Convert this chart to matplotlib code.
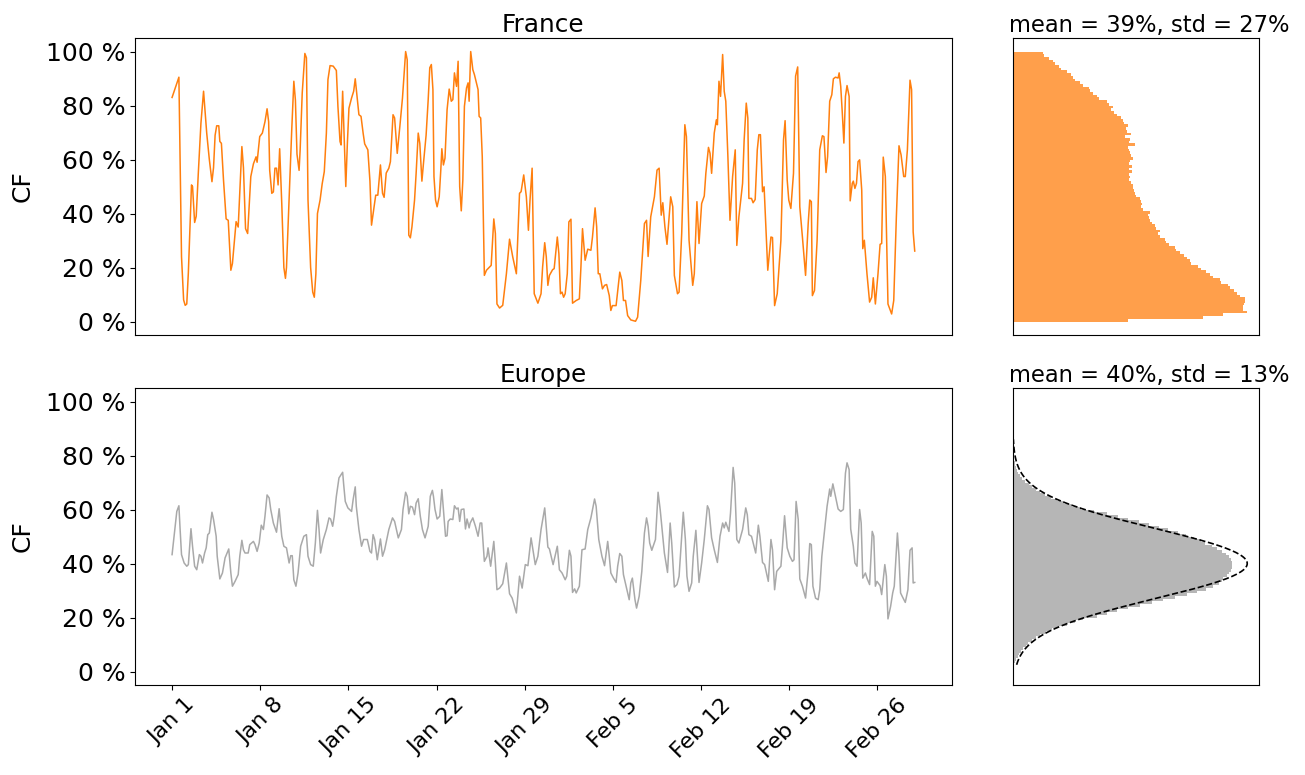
import numpy as np
import pandas as pd
import matplotlib
matplotlib.use("Agg")
import matplotlib.pyplot as plt
import matplotlib.ticker as mticker

# hourly capacity factor, Jan 1 - Feb 28 (hours since Jan 1 00:00, value in %)
france_hours = [
    0, 13, 18, 22, 25, 28, 31, 37, 39, 43, 46, 50, 55, 60, 66, 71, 76, 79, 82, 85,
    89, 91, 94, 98, 103, 107, 112, 115, 122, 126, 133, 136, 140, 144, 150, 155, 160, 162, 167, 172,
    177, 181, 184, 186, 190, 193, 196, 199, 202, 205, 209, 213, 216, 218, 223, 228, 232, 235, 238, 242,
    244, 248, 253, 256, 259, 264, 268, 271, 274, 277, 282, 286, 290, 294, 297, 301, 307, 313, 316, 320,
    322, 325, 328, 331, 334, 337, 342, 346, 349, 356, 360, 364, 367, 373, 377, 380, 384, 388, 392, 397,
    401, 404, 408, 413, 416, 421, 424, 429, 434, 439, 445, 448, 451, 454, 457, 462, 465, 469, 472, 476,
    479, 484, 488, 491, 494, 497, 499, 502, 505, 509, 512, 514, 517, 520, 524, 528, 532, 535, 538, 542,
    545, 548, 551, 554, 557, 561, 564, 566, 569, 573, 576, 583, 585, 588, 591, 595, 599, 605, 608, 613,
    616, 619, 624, 630, 637, 643, 649, 656, 662, 665, 670, 675, 679, 682, 686, 690, 697, 703, 706, 710,
    713, 716, 719, 725, 728, 734, 737, 740, 743, 746, 749, 753, 756, 760, 763, 770, 776, 779, 782, 787,
    792, 798, 801, 806, 809, 812, 815, 820, 824, 828, 833, 836, 839, 846, 853, 857, 860, 864, 868, 874,
    883, 887, 893, 900, 904, 907, 912, 919, 924, 928, 932, 935, 939, 943, 950, 954, 957, 963, 966, 971,
    977, 980, 985, 992, 995, 1000, 1004, 1009, 1014, 1017, 1022, 1025, 1028, 1033, 1037, 1039, 1042, 1045, 1049, 1052,
    1055, 1059, 1063, 1068, 1073, 1076, 1080, 1087, 1090, 1094, 1097, 1099, 1104, 1107, 1111, 1115, 1118, 1121, 1125, 1128,
    1131, 1135, 1141, 1144, 1148, 1153, 1160, 1165, 1168, 1172, 1175, 1179, 1184, 1188, 1192, 1196, 1201, 1207, 1212, 1215,
    1218, 1220, 1224, 1229, 1234, 1239, 1242, 1246, 1249, 1253, 1257, 1260, 1264, 1269, 1271, 1274, 1277, 1280, 1283, 1286,
    1290, 1292, 1296, 1298, 1301, 1304, 1307, 1310, 1314, 1316, 1319, 1324, 1329, 1333, 1336, 1340, 1345, 1349, 1352, 1355,
    1359, 1364, 1371, 1375, 1380, 1385, 1389, 1394, 1397, 1401, 1406, 1409, 1412, 1415,
]
france_cf = [
    83, 90.5, 24, 8, 6, 6.5, 18, 50.6, 50, 36.7, 39, 55, 73.5, 85.3, 69.8, 60, 51.8, 57, 69, 72.5,
    72.5, 66.7, 66, 52.4, 38, 37.5, 19, 21.5, 37, 35, 64.8, 57, 34.4, 32.6, 53.7, 58.4, 61, 59, 68.5, 69.8,
    74, 78.8, 74, 56, 47.5, 48, 56.8, 56.8, 50.6, 64, 43.7, 20, 16, 20, 46, 71, 89, 82, 62, 56,
    63.5, 84.7, 99.3, 97.7, 45, 20, 10.9, 9, 17.7, 40, 45, 51, 55.5, 69.8, 89.6, 94.8, 94.6, 93, 79.7, 66.7,
    65.4, 85.3, 67.3, 50, 66, 79, 82.8, 85.3, 89.9, 76.6, 76, 69.8, 65.8, 63.6, 52, 35.7, 41.3, 46.8, 46.8, 58,
    47.5, 46, 55, 56.8, 59.2, 76.6, 75.4, 62.3, 72.3, 82.8, 100, 97, 32, 31, 35, 45, 54.9, 69.8, 66, 52,
    58.6, 69, 82.2, 94, 95.2, 85.9, 53.7, 45, 42.5, 46.2, 56.1, 64, 58, 60.5, 78.5, 86.1, 81.6, 82.2, 92.1, 87.1,
    96.4, 50, 41, 52.4, 79.7, 86.5, 88.4, 81.6, 100, 93.3, 91.5, 85.9, 76, 75.4, 61.1, 17.1, 19, 20.2, 20.8, 38,
    32.6, 6.5, 5, 6, 17.7, 30.5, 24, 17.7, 47.5, 48.1, 54.3, 46.2, 33.8, 45, 56.8, 10.3, 6.8, 10.3, 20.2, 29.2,
    24, 13.4, 17.1, 19.2, 19.6, 31.3, 25.1, 10.3, 10.9, 9, 10.3, 17.7, 36.9, 37.9, 6.8, 7.8, 8.4, 20.2, 34.4, 22.7,
    26.8, 26.4, 31.3, 42.1, 35.1, 17.7, 17.7, 12.1, 13.4, 13.7, 9.6, 4.1, 5.9, 5.9, 18.3, 15.2, 7.8, 7.8, 2.2, 0.6,
    0.1, 1.6, 15.2, 36.3, 37.5, 24.1, 38.8, 46.2, 56.1, 56.8, 39.4, 44, 35.1, 28.6, 46.2, 42.5, 17.1, 10.3, 10.9, 32.6,
    72.9, 68.5, 30.1, 13.4, 17.7, 44.4, 28.9, 43.7, 46.5, 54.9, 64.5, 62.3, 54.9, 69.8, 74.7, 72.9, 89, 83.4, 98.9, 85.3,
    81.6, 61.1, 37.5, 53.7, 63.6, 28.2, 38.8, 51.2, 67.3, 80.9, 75.4, 45.6, 45.6, 44, 45.2, 63.6, 69.2, 69.2, 48.1, 49.9,
    36.9, 19, 31.3, 31.1, 5.9, 10.3, 30.1, 67.3, 74.4, 52.4, 45, 41.9, 54.9, 90.9, 94.3, 42.5, 31.3, 17.1, 36.3, 45,
    44.4, 9.6, 11.5, 30.1, 63.6, 68.8, 68.5, 55.2, 61.1, 81.6, 84, 89.9, 90.5, 90.2, 92.1, 87.1, 77.2, 66.1, 83.4, 87.4,
    83.4, 44.7, 51.2, 52, 49.3, 51.2, 59.2, 59.9, 48.7, 27, 30.1, 17.7, 7.2, 9, 16.2, 6.5, 17.7, 28.6, 28.9, 60.9,
    53.7, 6.5, 2.8, 7.8, 38.8, 65.1, 61.7, 53.7, 53.7, 63.6, 89.4, 85.9, 33.2, 26.1,
]

europe_hours = [
    0, 6, 9, 13, 15, 18, 23, 28, 31, 36, 39, 43, 47, 52, 55, 58, 62, 65, 68, 71,
    76, 79, 84, 86, 91, 96, 101, 108, 112, 115, 120, 126, 129, 133, 136, 139, 145, 148, 155, 158,
    162, 166, 170, 174, 177, 181, 185, 188, 193, 199, 204, 209, 213, 218, 223, 226, 229, 232, 236, 240,
    245, 251, 256, 259, 264, 269, 273, 277, 280, 283, 288, 294, 299, 302, 306, 309, 313, 318, 322, 325,
    327, 330, 335, 342, 345, 349, 351, 356, 361, 365, 372, 377, 380, 383, 386, 391, 397, 401, 405, 413,
    420, 424, 431, 437, 440, 445, 448, 451, 454, 458, 462, 465, 469, 473, 477, 482, 488, 492, 496, 498,
    501, 505, 510, 514, 517, 521, 524, 526, 530, 535, 538, 542, 545, 548, 551, 556, 559, 562, 566, 568,
    573, 578, 583, 587, 590, 595, 600, 602, 607, 613, 616, 619, 624, 630, 637, 643, 648, 656, 662, 667,
    673, 678, 684, 692, 697, 703, 710, 716, 719, 726, 734, 738, 743, 749, 752, 757, 760, 763, 767, 770,
    776, 781, 787, 792, 798, 805, 808, 813, 819, 824, 830, 833, 836, 841, 846, 849, 853, 857, 860, 865,
    871, 874, 877, 882, 885, 890, 895, 900, 904, 907, 910, 914, 921, 926, 930, 933, 938, 944, 949, 952,
    957, 962, 966, 974, 978, 981, 985, 990, 993, 998, 1001, 1004, 1009, 1014, 1020, 1023, 1028, 1033, 1039, 1044,
    1049, 1052, 1055, 1061, 1064, 1069, 1072, 1076, 1080, 1087, 1093, 1096, 1099, 1104, 1112, 1117, 1120, 1125, 1129, 1136,
    1141, 1144, 1148, 1152, 1160, 1163, 1167, 1172, 1177, 1182, 1185, 1189, 1193, 1196, 1201, 1207, 1212, 1215, 1218, 1221,
    1226, 1231, 1234, 1238, 1244, 1248, 1253, 1255, 1259, 1264, 1269, 1274, 1279, 1283, 1286, 1290, 1293, 1298, 1301, 1305,
    1310, 1313, 1316, 1321, 1324, 1329, 1334, 1337, 1340, 1343, 1349, 1352, 1358, 1361, 1364, 1369, 1373, 1376, 1382, 1385,
    1388, 1391, 1397, 1402, 1406, 1410, 1412, 1415,
]
europe_cf = [
    43.3, 53.8, 59.3, 61.4, 53.8, 43.3, 40.2, 39, 39.6, 52.9, 46.4, 39, 37.7, 43.3, 42.7, 40.2, 43.9, 45.8, 50.7, 51.3,
    59, 56.3, 50.1, 42.7, 34.3, 36.5, 42.1, 45.4, 36.5, 31.6, 33.4, 35.9, 42.7, 48.6, 45.1, 43.9, 43.9, 47, 48.2, 47,
    44.5, 47.6, 54.2, 52.6, 57.5, 65.4, 64.3, 60, 55, 51.6, 60.3, 50.1, 46.4, 45.8, 40.2, 42.9, 42.9, 34, 31.6, 36.5,
    46.4, 50.1, 50.7, 42.7, 39.6, 39, 47.6, 59.7, 52.6, 43.9, 48.8, 52.6, 56.9, 56.5, 53.8, 57.5, 64.9, 71.7, 72.9, 73.8,
    69.2, 63, 60.6, 59.3, 63.7, 68.4, 61.2, 52.6, 46.4, 48.9, 48.9, 44.5, 43.9, 50.7, 48.9, 41.4, 49.1, 42.7, 45.1, 52.6,
    56.9, 55.6, 49.5, 52.6, 60, 66.4, 64.9, 58.4, 61.2, 60.9, 58.1, 62.4, 64, 57.5, 52.6, 49.5, 53.8, 64.9, 67.1, 64.9,
    60, 56.5, 57.5, 67.4, 60, 50.1, 50.3, 55.6, 56.5, 56.3, 61.4, 60.2, 60.6, 55.6, 60, 60.2, 52.8, 56.5, 53.2, 55,
    56.9, 53.8, 50.1, 55, 55, 40.8, 42.7, 45.8, 39, 48.2, 40.2, 30.3, 30.9, 32.5, 40.2, 28.8, 27.2, 21.7, 35.3, 30.9,
    39.6, 39.2, 49.5, 39.6, 42.7, 52.6, 60.6, 46.1, 45.4, 39.6, 46.4, 37.7, 36.5, 34, 35.3, 44.9, 42.7, 29.3, 30.6, 29.1,
    31.6, 45.1, 45.4, 52.6, 56.9, 63.9, 61.2, 48.9, 42.7, 39.2, 48.2, 42.7, 36.5, 34.6, 33, 39, 43.7, 42.7, 35.9, 31.6,
    26.6, 32.8, 34.6, 26.6, 23.5, 27.9, 37.1, 51.3, 56.9, 53.8, 47.6, 44.9, 48.9, 66.4, 60, 53.8, 43.9, 36.7, 55, 47.6,
    31.3, 32.2, 35.3, 59, 48.9, 35.3, 29.7, 32.8, 42.7, 52.3, 42.7, 33, 40.2, 48.9, 61.4, 60, 49.5, 45.1, 40.4, 50.1,
    55, 53.2, 55.3, 51.9, 58.7, 75.6, 69.8, 48.9, 47.6, 52.6, 60.6, 58.1, 50.7, 50.1, 43.9, 54.2, 50.1, 40.4, 39.6, 33.4,
    48.9, 45.1, 30.3, 37.1, 39, 46.4, 57.7, 45.8, 42.7, 40.8, 41.4, 63, 56.3, 34.3, 31.6, 27.2, 37.7, 47.4, 47, 31.6,
    27.2, 26.6, 30.3, 42.7, 53.8, 61.2, 67.6, 64.9, 69.5, 64.9, 60.2, 59.3, 60, 73.5, 77.3, 74.8, 52.8, 46.4, 40.2, 39,
    60, 55, 34.6, 36.5, 34.6, 32.2, 51.9, 50.1, 31.6, 33.4, 31.8, 28.5, 39.6, 35.3, 19.5, 24.1, 29.1, 31.6, 51.3, 42.7,
    29.1, 27.9, 25.6, 30.3, 44.9, 45.8, 32.8, 33,
]

# long-term distributions, 1 % bins from 0 to 100 % (relative frequency)
france_hist = [
    343, 568, 628, 700, 688, 688, 690, 693, 693, 678, 668, 660, 648, 643, 623, 620, 598, 588, 578, 563,
    553, 533, 528, 520, 510, 498, 488, 483, 466, 458, 453, 438, 433, 440, 428, 423, 416, 410, 408, 403,
    410, 388, 383, 385, 383, 380, 368, 366, 363, 360, 358, 353, 346, 350, 348, 356, 348, 356, 348, 350,
    358, 353, 350, 348, 343, 365, 348, 350, 336, 353, 340, 338, 343, 333, 330, 323, 310, 303, 293, 298,
    286, 280, 258, 250, 238, 230, 228, 208, 200, 186, 178, 173, 163, 143, 138, 126, 120, 108, 93, 91,
]
europe_hist = [
    0, 1, 3, 6, 10, 14, 19, 25, 31, 38, 46, 56, 68, 81, 97, 115, 137, 160, 184, 208,
    250, 280, 310, 342, 377, 413, 448, 483, 517, 548, 574, 596, 612, 622, 626, 636, 643, 648, 651, 653,
    652, 648, 642, 633, 622, 608, 592, 573, 560, 540, 515, 490, 462, 434, 404, 374, 343, 312, 280, 240,
    203, 177, 153, 132, 113, 96, 81, 68, 57, 47, 35, 27, 21, 16, 12, 9, 7, 5, 4, 3,
    2, 2, 1, 1, 1, 1, 0, 0, 0, 0, 0, 0, 0, 0, 0, 0, 0, 0, 0, 0,
]
france_mean, france_std = 0.39, 0.27
europe_mean, europe_std = 0.40, 0.13

tick_dates = ["2013-01-01", "2013-01-08", "2013-01-15", "2013-01-22", "2013-01-29",
              "2013-02-05", "2013-02-12", "2013-02-19", "2013-02-26"]
tick_labels = ["Jan 1", "Jan 8", "Jan 15", "Jan 22", "Jan 29",
               "Feb 5", "Feb 12", "Feb 19", "Feb 26"]

plt.rcParams["font.size"] = 16

start = pd.Timestamp("2013-01-01")
t_fr = start + pd.to_timedelta(france_hours, unit="h")
t_eu = start + pd.to_timedelta(europe_hours, unit="h")
y_fr = np.array(france_cf) / 100
y_eu = np.array(europe_cf) / 100

edges = np.linspace(0, 1, 101)
centers = (edges[:-1] + edges[1:]) / 2

fig = plt.figure(figsize=(13.05, 7.75), dpi=100)
ax_fr = fig.add_axes([0.1034, 0.5677, 0.626, 0.3832])
ax_frh = fig.add_axes([0.7762, 0.5677, 0.1885, 0.3832])
ax_eu = fig.add_axes([0.1034, 0.1161, 0.626, 0.3832], sharex=ax_fr)
ax_euh = fig.add_axes([0.7762, 0.1161, 0.1885, 0.3832])

# time series
ax_fr.plot(t_fr, y_fr, color="tab:orange", lw=1.1)
ax_eu.plot(t_eu, y_eu, color="darkgray", lw=1.1)

pct = mticker.FuncFormatter(lambda v, p: f"{v * 100:.0f} %")
for ax, name in [(ax_fr, "France"), (ax_eu, "Europe")]:
    ax.set_ylim(-0.05, 1.05)
    ax.set_yticks(np.arange(0, 1.01, 0.2))
    ax.yaxis.set_major_formatter(pct)
    ax.tick_params(axis="y", labelsize=18)
    ax.set_ylabel("CF", fontsize=18, labelpad=8)
    ax.set_title(name, fontsize=17.8, pad=4.5)

ax_fr.tick_params(bottom=False, labelbottom=False)
ax_eu.set_xticks(pd.to_datetime(tick_dates))
ax_eu.set_xticklabels(tick_labels, rotation=45)

# distributions
ax_frh.hist(centers, bins=edges, weights=france_hist, density=True,
            orientation="horizontal", color="tab:orange", alpha=0.75)
ax_euh.hist(centers, bins=edges, weights=europe_hist, density=True,
            orientation="horizontal", color="darkgray", alpha=0.85)

yy = np.linspace(0.025, 0.86, 200)
pdf = np.exp(-0.5 * ((yy - europe_mean) / europe_std) ** 2) / (europe_std * np.sqrt(2 * np.pi))
ax_euh.plot(pdf, yy, "k--", lw=1.2)

for ax, m, s in [(ax_frh, france_mean, france_std), (ax_euh, europe_mean, europe_std)]:
    ax.set_ylim(-0.05, 1.05)
    ax.set_xticks([])
    ax.set_yticks([])
    ax.set_title(f"mean = {m:.0%}, std = {s:.0%}", fontsize=16.3, x=0.553, pad=4.5)

fig.savefig("out.png", dpi=100)
